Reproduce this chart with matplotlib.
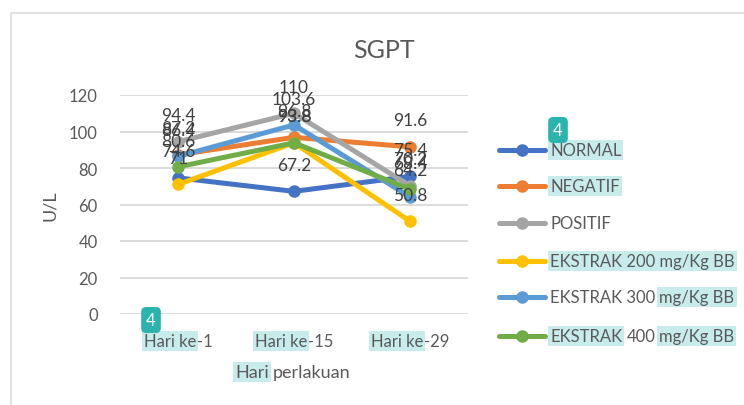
import matplotlib.pyplot as plt
from matplotlib.lines import Line2D
from matplotlib.text import Annotation
from matplotlib.patches import Rectangle

plt.rcParams['font.family'] = ['Lato', 'DejaVu Sans']

# data
categories = ['Hari ke-1', 'Hari ke-15', 'Hari ke-29']
series_names = ['NORMAL', 'NEGATIF', 'POSITIF',
                'EKSTRAK 200 mg/Kg BB', 'EKSTRAK 300 mg/Kg BB', 'EKSTRAK 400 mg/Kg BB']
normal = [74.6, 67.2, 75.4]
negatif = [87.2, 96.8, 91.6]
positif = [94.4, 110, 70.2]
ekstrak_200 = [71, 93.8, 50.8]
ekstrak_300 = [86.4, 103.6, 64.2]
ekstrak_400 = [80.6, 93.8, 68.4]
yticks = [0, 20, 40, 60, 80, 100, 120]

values = [normal, negatif, positif, ekstrak_200, ekstrak_300, ekstrak_400]
colors = ['#4472C4', '#ED7D31', '#A5A5A5', '#FFC000', '#5B9BD5', '#70AD47']

# pieces of legend / tick text, (text, highlighted, gap in points before)
legend_parts = [
    [('NORMAL', True, 0)],
    [('NEGATIF', True, 0)],
    [('POSITIF', False, 0)],
    [('EKSTRAK 200 mg/Kg BB', True, 0)],
    [('EKSTRAK 300', False, 0), ('mg/Kg BB', True, 3)],
    [('EKSTRAK', True, 0), ('400', False, 3), ('mg/Kg BB', True, 3)],
]

TXT = '#595959'
HL = '#c8ecec'
W, H = 744, 406

fig = plt.figure(figsize=(7.44, 4.06), dpi=100)
ax = fig.add_axes([120 / W, 1 - 315 / H, 348 / W, 219 / H])

x = list(range(len(categories)))
for name, vals, c in zip(series_names, values, colors):
    ax.plot(x, vals, color=c, lw=3.6, marker='o', ms=8, solid_capstyle='round', zorder=3)
for vals in values:
    for xi, v in zip(x, vals):
        ax.annotate(f'{v:g}', (xi, v), xytext=(0, 19), textcoords='offset points',
                    ha='center', va='center', fontsize=12.5, color='#404040',
                    annotation_clip=False, zorder=5)

ax.set_xlim(-0.5, len(categories) - 0.5)
ax.set_ylim(0, 120)
ax.set_yticks(yticks)
ax.set_xticks(x)
ax.set_xticklabels([])
ax.tick_params(length=0, labelsize=12, labelcolor=TXT, pad=16)
ax.yaxis.grid(True, color='#d9d9d9', lw=1.3)
ax.set_axisbelow(True)
for s in ax.spines.values():
    s.set_visible(False)
ax.set_ylabel('U/L', fontsize=13, color=TXT, labelpad=8)

fig.text(384 / W, 1 - 50 / H, 'SGPT', ha='center', va='center', fontsize=18, color=TXT)

# light chart frame
fig.add_artist(Rectangle((11 / W, -0.05), 1.0, 1 - 14 / H + 0.05, transform=fig.transFigure,
                         fill=False, ec='#e3e3e3', lw=1.6))


def draw_pieces(parts, px, py, size, center=False):
    arts = []
    prev = None
    for s, hl, gap in parts:
        bb = dict(boxstyle='square,pad=0.12', fc=HL, ec='none') if hl else None
        z = 3 if hl else 4
        if prev is None:
            t = fig.text(px / W, 1 - py / H, s, ha='left', va='center', fontsize=size,
                         color=TXT, bbox=bb, zorder=z)
        else:
            t = Annotation(s, xy=(1, 0), xycoords=prev, xytext=(gap, 0),
                           textcoords='offset points', ha='left', va='bottom',
                           fontsize=size, color=TXT, bbox=bb, zorder=z)
            fig.add_artist(t)
        arts.append(t)
        prev = t
    if center:
        fig.canvas.draw()
        w = arts[-1].get_window_extent().x1 - arts[0].get_window_extent().x0
        arts[0].set_x((px - w / 2) / W)
    return arts


# category labels with highlighted words
for cx, cat in zip([178, 294, 410], categories):
    head, tail = cat.split('-')
    draw_pieces([(head, True, 0), ('-' + tail, False, 0.5)], cx, 342, 12, center=True)

draw_pieces([('Hari', True, 0), ('perlakuan', False, 3)], 293, 373, 13, center=True)

# legend
ys = [151, 187, 224, 262, 298, 337]
for (c, parts, ly) in zip(colors, legend_parts, ys):
    fig.add_artist(Line2D([499 / W, 545 / W], [1 - ly / H] * 2, transform=fig.transFigure,
                          color=c, lw=3.6, solid_capstyle='round'))
    fig.add_artist(Line2D([522 / W], [1 - ly / H], transform=fig.transFigure,
                          color=c, marker='o', ms=8))
    draw_pieces(parts, 550, ly, 12)

# badges
for bx, by in [(558, 131), (151, 321)]:
    fig.text(bx / W, 1 - by / H, '4', ha='center', va='center', fontsize=12, color='white',
             bbox=dict(boxstyle='round,pad=0.3,rounding_size=0.3', fc='#2bb3ae', ec='none'),
             zorder=10)

fig.savefig('out.png', dpi=100)
